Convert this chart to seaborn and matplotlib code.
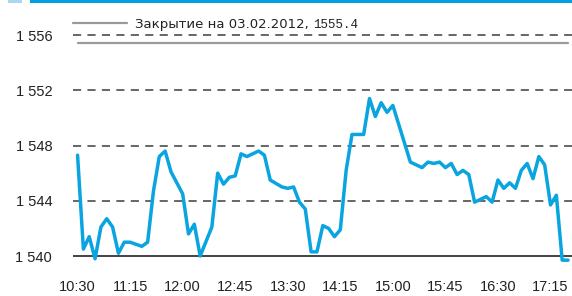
import numpy as np
import pandas as pd
import matplotlib
matplotlib.use("Agg")
import matplotlib.pyplot as plt
import seaborn as sns
from matplotlib.lines import Line2D
from matplotlib.patches import Rectangle

# dati: quotazioni intraday
orari = ["10:30", "10:35", "10:40", "10:45", "10:50", "10:55", "11:00", "11:05", "11:10", "11:15",
         "11:25", "11:30", "11:35", "11:40", "11:45", "11:50", "12:00", "12:05", "12:10", "12:15",
         "12:25", "12:30", "12:35", "12:40", "12:45", "12:50", "12:55", "13:05", "13:10", "13:15",
         "13:25", "13:30", "13:35", "13:40", "13:45", "13:50", "13:55", "14:00", "14:05", "14:10",
         "14:15", "14:20", "14:25", "14:35", "14:40", "14:45", "14:50", "14:55", "15:00", "15:15",
         "15:25", "15:30", "15:35", "15:40", "15:45", "15:50", "15:55", "16:00", "16:05", "16:10",
         "16:20", "16:25", "16:30", "16:35", "16:40", "16:45", "16:50", "16:55", "17:00", "17:05",
         "17:10", "17:15", "17:20", "17:25", "17:30"]
valori = [1547.3, 1540.5, 1541.4, 1539.8, 1542.1, 1542.7, 1542.1, 1540.2, 1541.0, 1541.0,
          1540.7, 1541.0, 1544.7, 1547.2, 1547.6, 1546.1, 1544.5, 1541.6, 1542.3, 1540.0,
          1542.1, 1546.0, 1545.2, 1545.7, 1545.8, 1547.4, 1547.2, 1547.6, 1547.3, 1545.5,
          1545.0, 1544.9, 1545.0, 1543.9, 1543.4, 1540.3, 1540.3, 1542.2, 1542.0, 1541.4,
          1541.9, 1546.2, 1548.8, 1548.8, 1551.4, 1550.1, 1551.1, 1550.4, 1550.9, 1546.8,
          1546.4, 1546.8, 1546.7, 1546.8, 1546.4, 1546.7, 1545.9, 1546.2, 1545.9, 1543.9,
          1544.3, 1543.9, 1545.5, 1544.9, 1545.3, 1544.9, 1546.2, 1546.7, 1545.6, 1547.2,
          1546.6, 1543.7, 1544.4, 1539.7, 1539.7]
tick_orari = ["10:30", "11:15", "12:00", "12:45", "13:30", "14:15", "15:00", "15:45", "16:30", "17:15"]
tick_y = [1540, 1544, 1548, 1552, 1556]
chiusura = 1555.4
data_chiusura = "03.02.2012"

def minuti(h):
    hh, mm = h.split(":")
    return (int(hh) - 10) * 60 + int(mm) - 30

df = pd.DataFrame({"t": [minuti(h) for h in orari], "Valore": valori})

sns.set_style("white")
plt.rcParams["font.family"] = ["Liberation Sans", "DejaVu Sans"]

W, H = 572, 296
fig = plt.figure(figsize=(W / 100, H / 100), dpi=100)
ax = fig.add_axes([73 / W, 1 - 264.3 / H, 1 - 73 / W, (264.3 - 21.2) / H])

# griglia tratteggiata + linea base
for v in tick_y[1:]:
    ax.axhline(v, color="#5a5a5a", lw=1.3, ls=(0, (4.5, 3.5)), zorder=1)
ax.axhline(tick_y[0], color="#222222", lw=1.2, zorder=1)

# linea di chiusura precedente
ax.plot([0, minuti(orari[-1])], [chiusura, chiusura], color="#9a9a9a", lw=1.6, zorder=2)

sns.lineplot(data=df, x="t", y="Valore", color="#0aa5e0", lw=2.5, ax=ax, zorder=3)

ax.set_xlim(-3.9, 423.4)
ax.set_ylim(1539.4, 1557.0)
ax.set_xticks([minuti(h) for h in tick_orari])
ax.set_xticklabels(tick_orari)
ax.set_yticks(tick_y)
ax.set_yticklabels([f"{v:,}".replace(",", " ") for v in tick_y])
ax.tick_params(axis="x", length=0, pad=11, labelsize=10.5, colors="#222222")
ax.tick_params(axis="y", length=0, pad=15, labelsize=10.5, colors="#222222")
ax.set_xlabel("")
ax.set_ylabel("")
for s in ax.spines.values():
    s.set_visible(False)

# legenda fatta a mano (due font diversi)
fig.add_artist(Line2D([73 / W, 127 / W], [1 - 22.5 / H] * 2, color="#9a9a9a", lw=1.6))
t1 = fig.text(135 / W, 1 - 28 / H, f"Закрытие на {data_chiusura}, ", fontsize=9.5,
              family="DejaVu Sans", color="#222222")
ax.annotate(f"{chiusura}", xy=(1, 0), xycoords=t1, va="bottom", ha="left",
            fontsize=9, family="Liberation Mono", color="#222222")

# barretta blu in alto
fig.add_artist(Rectangle((8 / W, 1 - 2.5 / H), 14 / W, 2.5 / H, transform=fig.transFigure,
                         color="#a8d8f0", lw=0))
fig.add_artist(Rectangle((30 / W, 1 - 2.5 / H), 1 - 30 / W, 2.5 / H, transform=fig.transFigure,
                         color="#00a0e0", lw=0))

fig.savefig("out.png", dpi=100)
